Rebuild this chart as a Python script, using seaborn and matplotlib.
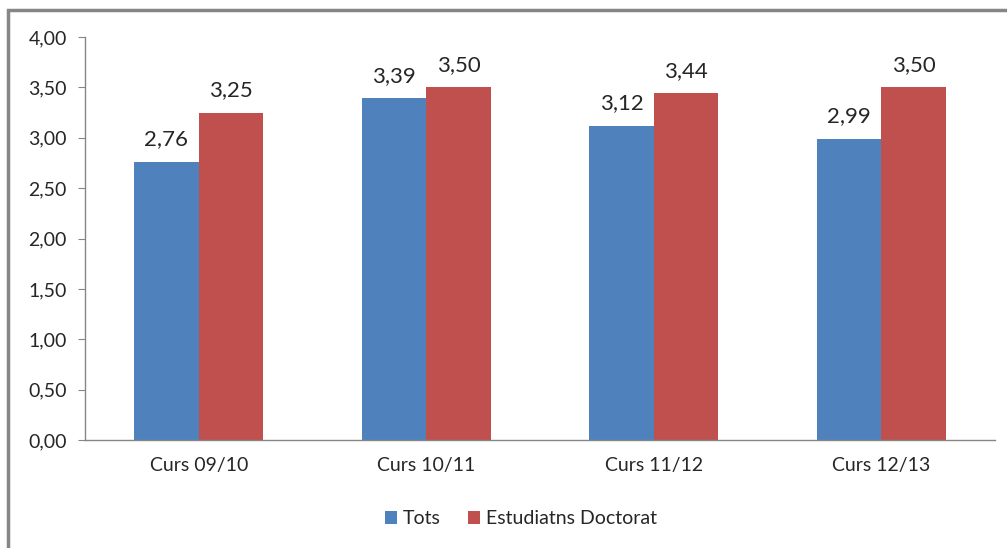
import seaborn as sns
import matplotlib.pyplot as plt
import pandas as pd
from matplotlib.patches import Rectangle

courses = ['Curs 09/10', 'Curs 10/11', 'Curs 11/12', 'Curs 12/13']
tots = [2.76, 3.39, 3.12, 2.99]
doctorat = [3.25, 3.50, 3.44, 3.50]
series_names = ['Tots', 'Estudiatns Doctorat']

df = pd.DataFrame({
    'curs': courses * 2,
    'valor': tots + doctorat,
    'serie': [series_names[0]] * len(tots) + [series_names[1]] * len(doctorat),
})

sns.set_style('white')
plt.rcParams['font.family'] = ['Lato', 'DejaVu Sans']

fig = plt.figure(figsize=(10.07, 5.48), dpi=100)
ax = fig.add_axes([0.0844, 0.197, 0.9036, 0.7355])

sns.barplot(data=df, x='curs', y='valor', hue='serie', order=courses,
            hue_order=series_names, palette=['#4F81BD', '#C0504D'],
            width=0.567, saturation=1, linewidth=0, ax=ax, legend=True)

for cont in ax.containers:
    labels = [f'{v:.2f}'.replace('.', ',') for v in cont.datavalues]
    ax.bar_label(cont, labels=labels, padding=9, fontsize=16)

ax.set_ylim(0, 4)
ax.set_xlim(-0.5, 3.5)
yt = [i * 0.5 for i in range(9)]
ax.set_yticks(yt)
ax.set_yticklabels([f'{v:.2f}'.replace('.', ',') for v in yt], fontsize=14)
ax.set_xticks(range(len(courses)))
ax.set_xticklabels(courses, fontsize=14)
ax.set_xticks([i - 0.5 for i in range(len(courses) + 1)], minor=True)
ax.tick_params(axis='x', which='major', length=0, pad=12)
ax.tick_params(axis='x', which='minor', length=5, color='#868686', direction='out')
ax.tick_params(axis='y', length=5, color='#868686', direction='out', pad=8, left=True)
ax.set_xlabel('')
ax.set_ylabel('')
for s in ['top', 'right']:
    ax.spines[s].set_visible(False)
for s in ['left', 'bottom']:
    ax.spines[s].set_color('#868686')
    ax.spines[s].set_linewidth(1)

ax.legend(loc='center', bbox_to_anchor=(0.517, 0.053), bbox_transform=fig.transFigure,
          ncol=2, frameon=False, fontsize=14, handlelength=0.62, handleheight=0.62,
          columnspacing=1.4, handletextpad=0.3)

fig.patches.append(Rectangle((8 / 1007, -0.05), 1.2, 1 - 10 / 548 + 0.05,
                             transform=fig.transFigure, fill=False,
                             edgecolor='#868686', linewidth=2.5))

fig.savefig('out.png', dpi=100)
